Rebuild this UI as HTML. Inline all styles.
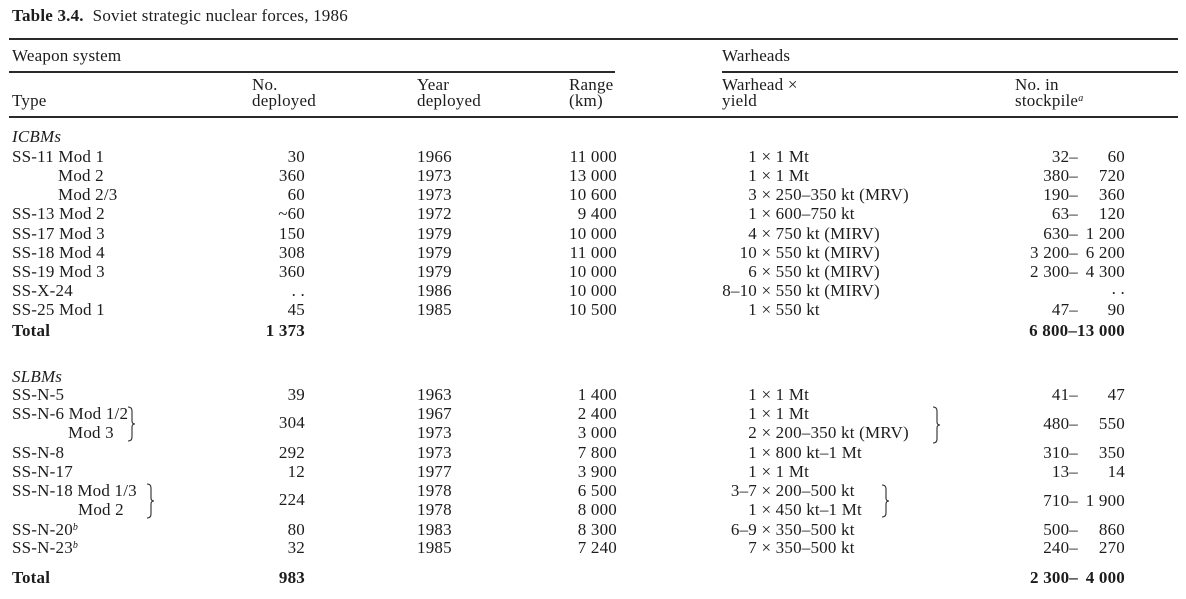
<!DOCTYPE html>
<html>
<head>
<meta charset="utf-8">
<style>
  html,body{margin:0;padding:0;background:#fff;}
  body{width:1186px;height:599px;position:relative;overflow:hidden;
       font-family:"Liberation Serif","DejaVu Serif",serif;color:#1c1c1c;}
  .t{position:absolute;white-space:nowrap;font-size:17px;line-height:19px;letter-spacing:0.2px;}
  .r{text-align:right;}
  .b{font-weight:bold;}
  .i{font-style:italic;}
  .rule{position:absolute;background:#2a2a2a;}
  sup{font-size:10px;font-style:italic;vertical-align:5px;line-height:0;}
</style>
</head>
<body>
<!-- Title -->
<div class="t" style="left:12px;top:6px;"><span class="b">Table 3.4.</span>&nbsp; Soviet strategic nuclear forces, 1986</div>

<!-- Rules -->
<div class="rule" style="left:9px;top:38px;width:1169px;height:2px;"></div>
<div class="rule" style="left:9px;top:71px;width:606px;height:1.5px;"></div>
<div class="rule" style="left:722px;top:71px;width:456px;height:1.5px;"></div>
<div class="rule" style="left:9px;top:116px;width:1169px;height:2px;"></div>

<!-- Group headings -->
<div class="t" style="left:12px;top:46px;">Weapon system</div>
<div class="t" style="left:722px;top:46px;">Warheads</div>

<!-- Column headings -->
<div class="t" style="left:12px;top:91px;">Type</div>
<div class="t" style="left:252px;top:75px;">No.</div>
<div class="t" style="left:252px;top:91px;">deployed</div>
<div class="t" style="left:417px;top:75px;">Year</div>
<div class="t" style="left:417px;top:91px;">deployed</div>
<div class="t" style="left:569px;top:75px;">Range</div>
<div class="t" style="left:569px;top:91px;">(km)</div>
<div class="t" style="left:722px;top:75px;">Warhead ×</div>
<div class="t" style="left:722px;top:91px;">yield</div>
<div class="t" style="left:1015px;top:75px;">No. in</div>
<div class="t" style="left:1015px;top:91px;">stockpile<sup>a</sup></div>

<!-- ICBMs -->
<div class="t i" style="left:12px;top:127px;">ICBMs</div>

<!-- Type column -->
<div class="t" style="left:12px;top:147px;">SS-11 Mod 1</div>
<div class="t" style="left:58px;top:166px;">Mod 2</div>
<div class="t" style="left:58px;top:185px;">Mod 2/3</div>
<div class="t" style="left:12px;top:204px;">SS-13 Mod 2</div>
<div class="t" style="left:12px;top:224px;">SS-17 Mod 3</div>
<div class="t" style="left:12px;top:243px;">SS-18 Mod 4</div>
<div class="t" style="left:12px;top:262px;">SS-19 Mod 3</div>
<div class="t" style="left:12px;top:281px;">SS-X-24</div>
<div class="t" style="left:12px;top:300px;">SS-25 Mod 1</div>
<div class="t b" style="left:12px;top:321px;">Total</div>

<!-- No. deployed -->
<div class="t r" style="right:881px;top:147px;">30</div>
<div class="t r" style="right:881px;top:166px;">360</div>
<div class="t r" style="right:881px;top:185px;">60</div>
<div class="t r" style="right:881px;top:204px;">~60</div>
<div class="t r" style="right:881px;top:224px;">150</div>
<div class="t r" style="right:881px;top:243px;">308</div>
<div class="t r" style="right:881px;top:262px;">360</div>
<div class="t r" style="right:881px;top:281px;">. .</div>
<div class="t r" style="right:881px;top:300px;">45</div>
<div class="t r b" style="right:881px;top:321px;">1 373</div>

<!-- Year -->
<div class="t" style="left:417px;top:147px;">1966</div>
<div class="t" style="left:417px;top:166px;">1973</div>
<div class="t" style="left:417px;top:185px;">1973</div>
<div class="t" style="left:417px;top:204px;">1972</div>
<div class="t" style="left:417px;top:224px;">1979</div>
<div class="t" style="left:417px;top:243px;">1979</div>
<div class="t" style="left:417px;top:262px;">1979</div>
<div class="t" style="left:417px;top:281px;">1986</div>
<div class="t" style="left:417px;top:300px;">1985</div>

<!-- Range -->
<div class="t r" style="right:569px;top:147px;">11 000</div>
<div class="t r" style="right:569px;top:166px;">13 000</div>
<div class="t r" style="right:569px;top:185px;">10 600</div>
<div class="t r" style="right:569px;top:204px;">9 400</div>
<div class="t r" style="right:569px;top:224px;">10 000</div>
<div class="t r" style="right:569px;top:243px;">11 000</div>
<div class="t r" style="right:569px;top:262px;">10 000</div>
<div class="t r" style="right:569px;top:281px;">10 000</div>
<div class="t r" style="right:569px;top:300px;">10 500</div>

<!-- Warhead x yield (multiplier right-aligned at 757) -->
<div class="t r" style="right:429px;top:147px;">1</div><div class="t" style="left:757px;top:147px;">&nbsp;× 1 Mt</div>
<div class="t r" style="right:429px;top:166px;">1</div><div class="t" style="left:757px;top:166px;">&nbsp;× 1 Mt</div>
<div class="t r" style="right:429px;top:185px;">3</div><div class="t" style="left:757px;top:185px;">&nbsp;× 250–350 kt (MRV)</div>
<div class="t r" style="right:429px;top:204px;">1</div><div class="t" style="left:757px;top:204px;">&nbsp;× 600–750 kt</div>
<div class="t r" style="right:429px;top:224px;">4</div><div class="t" style="left:757px;top:224px;">&nbsp;× 750 kt (MIRV)</div>
<div class="t r" style="right:429px;top:243px;">10</div><div class="t" style="left:757px;top:243px;">&nbsp;× 550 kt (MIRV)</div>
<div class="t r" style="right:429px;top:262px;">6</div><div class="t" style="left:757px;top:262px;">&nbsp;× 550 kt (MIRV)</div>
<div class="t r" style="right:429px;top:281px;">8–10</div><div class="t" style="left:757px;top:281px;">&nbsp;× 550 kt (MIRV)</div>
<div class="t r" style="right:429px;top:300px;">1</div><div class="t" style="left:757px;top:300px;">&nbsp;× 550 kt</div>

<!-- Stockpile -->
<div class="t r" style="right:108px;top:147px;">32–</div><div class="t r" style="right:61px;top:147px;">60</div>
<div class="t r" style="right:108px;top:166px;">380–</div><div class="t r" style="right:61px;top:166px;">720</div>
<div class="t r" style="right:108px;top:185px;">190–</div><div class="t r" style="right:61px;top:185px;">360</div>
<div class="t r" style="right:108px;top:204px;">63–</div><div class="t r" style="right:61px;top:204px;">120</div>
<div class="t r" style="right:108px;top:224px;">630–</div><div class="t r" style="right:61px;top:224px;">1 200</div>
<div class="t r" style="right:108px;top:243px;">3 200–</div><div class="t r" style="right:61px;top:243px;">6 200</div>
<div class="t r" style="right:108px;top:262px;">2 300–</div><div class="t r" style="right:61px;top:262px;">4 300</div>
<div class="t r" style="right:61px;top:279px;">. .</div>
<div class="t r" style="right:108px;top:300px;">47–</div><div class="t r" style="right:61px;top:300px;">90</div>
<div class="t r b" style="right:61px;top:321px;">6 800–13 000</div>

<!-- SLBMs -->
<div class="t i" style="left:12px;top:367px;">SLBMs</div>

<div class="t" style="left:12px;top:385px;">SS-N-5</div>
<div class="t" style="left:12px;top:404px;">SS-N-6 Mod 1/2</div>
<div class="t" style="left:68px;top:423px;">Mod 3</div>
<div class="t" style="left:12px;top:443px;">SS-N-8</div>
<div class="t" style="left:12px;top:462px;">SS-N-17</div>
<div class="t" style="left:12px;top:481px;">SS-N-18 Mod 1/3</div>
<div class="t" style="left:78px;top:500px;">Mod 2</div>
<div class="t" style="left:12px;top:520px;">SS-N-20<sup>b</sup></div>
<div class="t" style="left:12px;top:538px;">SS-N-23<sup>b</sup></div>
<div class="t b" style="left:12px;top:568px;">Total</div>

<!-- No. deployed -->
<div class="t r" style="right:881px;top:385px;">39</div>
<div class="t r" style="right:881px;top:413px;">304</div>
<div class="t r" style="right:881px;top:443px;">292</div>
<div class="t r" style="right:881px;top:462px;">12</div>
<div class="t r" style="right:881px;top:490px;">224</div>
<div class="t r" style="right:881px;top:520px;">80</div>
<div class="t r" style="right:881px;top:538px;">32</div>
<div class="t r b" style="right:881px;top:568px;">983</div>

<!-- Year -->
<div class="t" style="left:417px;top:385px;">1963</div>
<div class="t" style="left:417px;top:404px;">1967</div>
<div class="t" style="left:417px;top:423px;">1973</div>
<div class="t" style="left:417px;top:443px;">1973</div>
<div class="t" style="left:417px;top:462px;">1977</div>
<div class="t" style="left:417px;top:481px;">1978</div>
<div class="t" style="left:417px;top:500px;">1978</div>
<div class="t" style="left:417px;top:520px;">1983</div>
<div class="t" style="left:417px;top:538px;">1985</div>

<!-- Range -->
<div class="t r" style="right:569px;top:385px;">1 400</div>
<div class="t r" style="right:569px;top:404px;">2 400</div>
<div class="t r" style="right:569px;top:423px;">3 000</div>
<div class="t r" style="right:569px;top:443px;">7 800</div>
<div class="t r" style="right:569px;top:462px;">3 900</div>
<div class="t r" style="right:569px;top:481px;">6 500</div>
<div class="t r" style="right:569px;top:500px;">8 000</div>
<div class="t r" style="right:569px;top:520px;">8 300</div>
<div class="t r" style="right:569px;top:538px;">7 240</div>

<!-- Warhead x yield -->
<div class="t r" style="right:429px;top:385px;">1</div><div class="t" style="left:757px;top:385px;">&nbsp;× 1 Mt</div>
<div class="t r" style="right:429px;top:404px;">1</div><div class="t" style="left:757px;top:404px;">&nbsp;× 1 Mt</div>
<div class="t r" style="right:429px;top:423px;">2</div><div class="t" style="left:757px;top:423px;">&nbsp;× 200–350 kt (MRV)</div>
<div class="t r" style="right:429px;top:443px;">1</div><div class="t" style="left:757px;top:443px;">&nbsp;× 800 kt–1 Mt</div>
<div class="t r" style="right:429px;top:462px;">1</div><div class="t" style="left:757px;top:462px;">&nbsp;× 1 Mt</div>
<div class="t r" style="right:429px;top:481px;">3–7</div><div class="t" style="left:757px;top:481px;">&nbsp;× 200–500 kt</div>
<div class="t r" style="right:429px;top:500px;">1</div><div class="t" style="left:757px;top:500px;">&nbsp;× 450 kt–1 Mt</div>
<div class="t r" style="right:429px;top:520px;">6–9</div><div class="t" style="left:757px;top:520px;">&nbsp;× 350–500 kt</div>
<div class="t r" style="right:429px;top:538px;">7</div><div class="t" style="left:757px;top:538px;">&nbsp;× 350–500 kt</div>

<!-- Stockpile -->
<div class="t r" style="right:108px;top:385px;">41–</div><div class="t r" style="right:61px;top:385px;">47</div>
<div class="t r" style="right:108px;top:414px;">480–</div><div class="t r" style="right:61px;top:414px;">550</div>
<div class="t r" style="right:108px;top:443px;">310–</div><div class="t r" style="right:61px;top:443px;">350</div>
<div class="t r" style="right:108px;top:462px;">13–</div><div class="t r" style="right:61px;top:462px;">14</div>
<div class="t r" style="right:108px;top:491px;">710–</div><div class="t r" style="right:61px;top:491px;">1 900</div>
<div class="t r" style="right:108px;top:520px;">500–</div><div class="t r" style="right:61px;top:520px;">860</div>
<div class="t r" style="right:108px;top:538px;">240–</div><div class="t r" style="right:61px;top:538px;">270</div>
<div class="t r b" style="right:108px;top:568px;">2 300–</div><div class="t r b" style="right:61px;top:568px;">4 000</div>

<!-- Braces -->
<svg style="position:absolute;left:0;top:0;" width="1186" height="599">
  <g fill="none" stroke="#2a2a2a" stroke-width="1.1">
    <path d="M128,407 Q132,407 132,411 L132,421 Q132,424 135,424 Q132,424 132,427 L132,437 Q132,441 128,441"/>
    <path d="M147,484 Q151,484 151,488 L151,498 Q151,501 154,501 Q151,501 151,504 L151,514 Q151,518 147,518"/>
    <path d="M933,407 Q937,407 937,411 L937,422 Q937,425 940,425 Q937,425 937,428 L937,439 Q937,443 933,443"/>
    <path d="M882,485 Q886,485 886,489 L886,498 Q886,501 889,501 Q886,501 886,504 L886,513 Q886,517 882,517"/>
  </g>
</svg>
</body>
</html>
